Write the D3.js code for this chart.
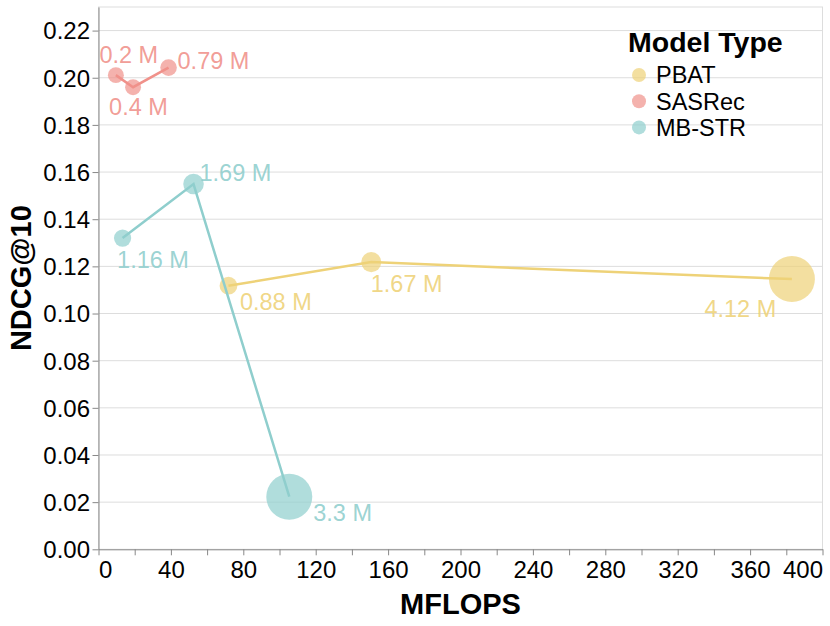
<!DOCTYPE html>
<html>
<head>
<meta charset="utf-8">
<script src="https://cdn.jsdelivr.net/npm/d3@7"></script>
<style>
  html, body { margin: 0; padding: 0; background: #fff; }
  svg { display: block; font-family: "Liberation Sans", Arial, Helvetica, sans-serif; }
</style>
</head>
<body>
<svg id="chart"></svg>
<script>
// data
let models = ["SASRec", "SASRec", "SASRec", "MB-STR", "MB-STR", "MB-STR", "PBAT", "PBAT", "PBAT"];
let params = ["0.2 M", "0.4 M", "0.79 M", "1.16 M", "1.69 M", "3.3 M", "0.88 M", "1.67 M", "4.12 M"];
let mflops = [9.6, 19.1, 38.7, 13.3, 52.5, 105.4, 71.8, 150.7, 383.1];
let ndcg = [0.2011, 0.1960, 0.2043, 0.1320, 0.1549, 0.0223, 0.1118, 0.1218, 0.1146];
let relSize = [12, 12, 13, 14, 20, 100, 15, 19, 100];

let modelTypes = ["PBAT", "SASRec", "MB-STR"];
let xTicks = [0, 20, 40, 60, 80, 100, 120, 140, 160, 180, 200, 220, 240, 260, 280, 300, 320, 340, 360, 380, 400];
let xLabels = [0, 40, 80, 120, 160, 200, 240, 280, 320, 360, 400];
let yTicks = [0, 0.02, 0.04, 0.06, 0.08, 0.10, 0.12, 0.14, 0.16, 0.18, 0.20, 0.22];

function makeChart() {
  let W = 830, H = 626;
  let left = 98.5, right = 822.5, top = 7, bottom = 549.3;

  let colors = d3.scaleOrdinal()
      .domain(modelTypes)
      .range(["#eed278", "#f0918a", "#8fcecd"]);

  // label placement relative to the point centre (text x, baseline)
  let labelOffset = {
      "0.2 M": [-16.5, -12.6], "0.4 M": [-24, 27.7], "0.79 M": [9, 1.3],
      "1.16 M": [-5.5, 30], "1.69 M": [6, -2.6], "3.3 M": [24, 24],
      "0.88 M": [11.5, 24.3], "1.67 M": [-0.5, 29.7], "4.12 M": [-87.5, 38.4]
  };

  let pts = params.map((p, i) => ({
      model: models[i], label: p, x: mflops[i], y: ndcg[i], s: relSize[i]
  }));

  let scX = d3.scaleLinear().domain([0, 400]).range([left, right]);
  let scY = d3.scaleLinear().domain([0, 0.23]).range([bottom, top]);
  let scR = d3.scaleSqrt().domain([0, 100]).range([0, 23]);

  let svg = d3.select('#chart').attr('width', W).attr('height', H);

  // grid + view border
  svg.append('g').selectAll('line')
      .data(yTicks.slice(1)).enter().append('line')
      .attr('x1', left).attr('x2', right)
      .attr('y1', d => scY(d)).attr('y2', d => scY(d))
      .attr('stroke', '#dddddd').attr('stroke-width', 1);
  svg.append('rect')
      .attr('x', left).attr('y', top)
      .attr('width', right - left).attr('height', bottom - top)
      .attr('fill', 'none').attr('stroke', '#dddddd').attr('stroke-width', 1);

  // y axis
  let yAxis = svg.append('g').attr('transform', `translate(${left},0)`)
      .call(d3.axisLeft(scY).tickValues(yTicks).tickFormat(d3.format('.2f')).tickSize(6).tickSizeOuter(0));
  yAxis.select('.domain').attr('stroke', '#888');
  yAxis.selectAll('.tick line').attr('stroke', '#888');
  yAxis.selectAll('.tick text')
      .attr('font-size', 24).attr('fill', '#000').attr('font-family', null)
      .attr('x', -8.5).attr('dy', '0.35em');

  // x axis
  let xAxis = svg.append('g').attr('transform', `translate(0,${bottom})`)
      .call(d3.axisBottom(scX).tickValues(xTicks)
          .tickFormat(d => xLabels.includes(d) ? d : '').tickSize(6).tickSizeOuter(0));
  xAxis.select('.domain').attr('stroke', '#888');
  xAxis.selectAll('.tick line').attr('stroke', '#888');
  xAxis.selectAll('.tick text')
      .attr('font-size', 24).attr('fill', '#000').attr('font-family', null)
      .attr('y', 12).attr('dy', '0.71em')
      .attr('text-anchor', d => d === 0 ? 'start' : (d === 400 ? 'end' : 'middle'));

  // axis titles
  svg.append('text')
      .attr('x', (left + right) / 2).attr('y', 614)
      .attr('text-anchor', 'middle')
      .attr('font-size', 29).attr('font-weight', 'bold')
      .text('MFLOPS');
  svg.append('text')
      .attr('transform', `translate(31,${(top + bottom) / 2}) rotate(-90)`)
      .attr('text-anchor', 'middle')
      .attr('font-size', 29).attr('font-weight', 'bold')
      .text('NDCG@10');

  // circles
  svg.append('g').selectAll('circle')
      .data(pts).enter().append('circle')
      .attr('cx', d => scX(d.x)).attr('cy', d => scY(d.y))
      .attr('r', d => scR(d.s))
      .attr('fill', d => colors(d.model)).attr('fill-opacity', 0.7);

  // lines per model, sorted by MFLOPS
  let line = d3.line().x(d => scX(d.x)).y(d => scY(d.y));
  let groups = d3.groups(pts, d => d.model);
  svg.append('g').selectAll('path')
      .data(groups).enter().append('path')
      .attr('d', g => line(g[1].slice().sort((a, b) => a.x - b.x)))
      .attr('fill', 'none')
      .attr('stroke', g => colors(g[0]))
      .attr('stroke-width', 2.5);

  // point labels
  svg.append('g').selectAll('text')
      .data(pts).enter().append('text')
      .attr('x', d => scX(d.x) + labelOffset[d.label][0])
      .attr('y', d => scY(d.y) + labelOffset[d.label][1])
      .attr('font-size', 23.5)
      .attr('fill', d => colors(d.model)).attr('fill-opacity', 0.9)
      .text(d => d.label);

  // legend
  let lg = svg.append('g');
  lg.append('text')
      .attr('x', 628).attr('y', 52)
      .attr('font-size', 28.5).attr('font-weight', 'bold')
      .text('Model Type');
  let rows = lg.selectAll('g.row')
      .data(modelTypes).enter().append('g')
      .attr('class', 'row')
      .attr('transform', (d, i) => `translate(639,${75 + i * 26.2})`);
  rows.append('circle')
      .attr('r', 7)
      .attr('fill', d => colors(d)).attr('fill-opacity', 0.7);
  rows.append('text')
      .attr('x', 17).attr('y', 8.3)
      .attr('font-size', 23.5)
      .text(d => d);
}

makeChart();
</script>
</body>
</html>
